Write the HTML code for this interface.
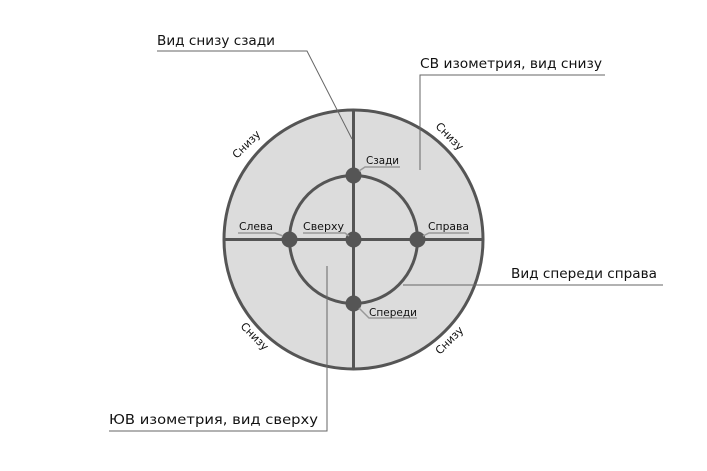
<!DOCTYPE html>
<html><head><meta charset="utf-8"><style>
html,body{margin:0;padding:0;background:#fff;}
svg text{font-family:"DejaVu Sans","Liberation Sans",sans-serif;fill:#111;}
</style></head><body>
<svg width="707" height="466" viewBox="0 0 707 466" xmlns="http://www.w3.org/2000/svg">
<circle cx="353.5" cy="239.5" r="129.5" fill="#dcdcdc" stroke="#555" stroke-width="3"/>
<circle cx="353.5" cy="239.5" r="64" fill="none" stroke="#555" stroke-width="3"/>
<line x1="353.5" y1="110" x2="353.5" y2="369" stroke="#555" stroke-width="3"/>
<line x1="224" y1="239.5" x2="483" y2="239.5" stroke="#555" stroke-width="3"/>
<g fill="#555">
<circle cx="353.5" cy="175.5" r="8"/><circle cx="353.5" cy="303.5" r="8"/>
<circle cx="289.5" cy="239.5" r="8"/><circle cx="417.5" cy="239.5" r="8"/>
<circle cx="353.5" cy="239.5" r="8"/>
</g>
<g stroke="#666" stroke-width="1" fill="none">
<polyline points="157,51 307,51 352,139"/>
<polyline points="605,75 420,75 420,170"/>
<polyline points="663,285 403,285"/>
<polyline points="109,431 327,431 327,266"/>
</g>
<g stroke="#999" stroke-width="1.5" fill="none">
<polyline points="359,171 365,167 400,167"/>
<polyline points="238,233 275,233 283,236"/>
<polyline points="303,233 345,233 349,236"/>
<polyline points="423,236 429,233 469,233"/>
<polyline points="359,308 369,318 417,318"/>
</g>
<g font-size="13.5">
<text x="157" y="45" textLength="118" lengthAdjust="spacingAndGlyphs">Вид снизу сзади</text>
<text x="420" y="68" textLength="182" lengthAdjust="spacingAndGlyphs">СВ изометрия, вид снизу</text>
<text x="511" y="278" textLength="146" lengthAdjust="spacingAndGlyphs">Вид спереди справа</text>
<text x="109" y="424" textLength="209" lengthAdjust="spacingAndGlyphs">ЮВ изометрия, вид сверху</text>
</g>
<g font-size="11">
<text x="366" y="164" textLength="33" lengthAdjust="spacingAndGlyphs">Сзади</text>
<text x="239" y="230" textLength="34" lengthAdjust="spacingAndGlyphs">Слева</text>
<text x="303" y="230" textLength="41" lengthAdjust="spacingAndGlyphs">Сверху</text>
<text x="428" y="230" textLength="41" lengthAdjust="spacingAndGlyphs">Справа</text>
<text x="369" y="316" textLength="48" lengthAdjust="spacingAndGlyphs">Спереди</text>
<text transform="translate(249,147) rotate(-45)" text-anchor="middle">Снизу</text>
<text transform="translate(447,139) rotate(45)" text-anchor="middle">Снизу</text>
<text transform="translate(252,339) rotate(45)" text-anchor="middle">Снизу</text>
<text transform="translate(452,343) rotate(-45)" text-anchor="middle">Снизу</text>
</g>
</svg>
</body></html>
